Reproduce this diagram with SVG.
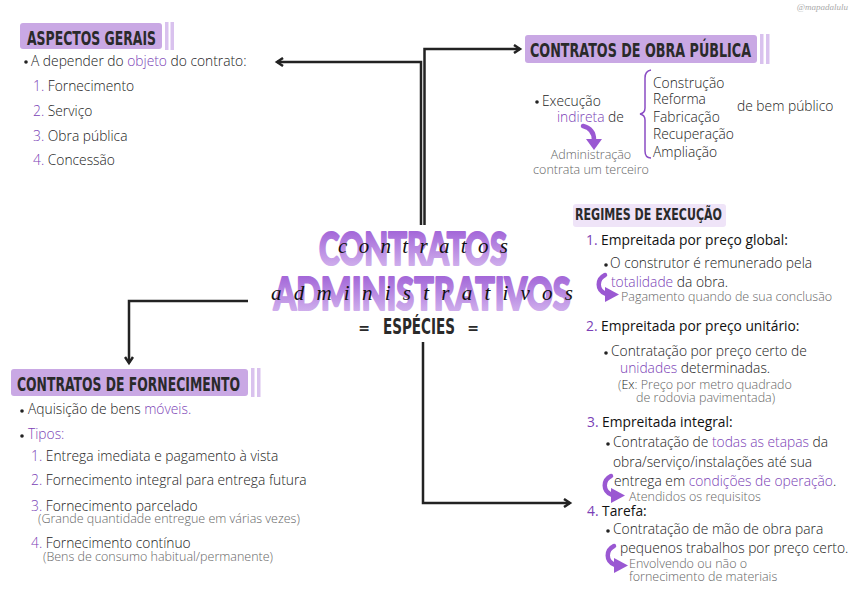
<svg xmlns="http://www.w3.org/2000/svg" width="853" height="594" viewBox="0 0 853 594">
<defs>
<style>
.t{font-family:"Open Sans","Noto Sans",sans-serif;font-size:13.8px;fill:#222;font-weight:300}
.d{fill:#111;font-weight:400}
.p{fill:#7b3fb6}
.g{font-family:"Open Sans","Noto Sans",sans-serif;font-size:12.5px;fill:#666;font-weight:300}
.h{font-family:"DejaVu Sans","Liberation Sans",sans-serif;font-weight:bold;fill:#2a2a2a}
.box{fill:#c9a8e4}
.bar{fill:#d9c2ee}
.ln{fill:none;stroke:#222;stroke-width:2.5}
.bul{fill:#222}
.big{font-family:Lato,"DejaVu Sans",sans-serif;font-weight:900;font-size:46px;fill:url(#tg);stroke:url(#tg);stroke-width:2.2;stroke-linejoin:round}
.sc{font-family:"Liberation Serif",serif;font-style:italic;font-size:21px;fill:#111}
</style>
<marker id="ah" markerWidth="10" markerHeight="10" refX="7" refY="5" orient="auto" markerUnits="userSpaceOnUse">
<path d="M1,1 L7,5 L1,9" fill="none" stroke="#222" stroke-width="2.5"/>
</marker>
<linearGradient id="tg" x1="0" y1="0" x2="0" y2="1">
<stop offset="0" stop-color="#9550d2"/>
<stop offset="1" stop-color="#dac0f1"/>
</linearGradient>
<symbol id="curl" viewBox="0 0 26 30" overflow="visible">
<path d="M11,2 C3,6 2,17 12,21" fill="none" stroke="#9a58d2" stroke-width="4.5" stroke-linecap="round"/>
<polygon points="11,14 25,21.5 11,29" fill="#9a58d2"/>
</symbol>
</defs>
<rect width="853" height="594" fill="#fff"/>

<text x="848" y="10" text-anchor="end" font-family="Liberation Serif,serif" font-style="italic" font-size="9" fill="#aaa">@mapadalulu</text>

<g id="connectors">
<path class="ln" d="M421,225 V62 H277" marker-end="url(#ah)"/>
<path class="ln" d="M424.5,225 V49 H520" marker-end="url(#ah)"/>
<path class="ln" d="M248,301 H129 V363" marker-end="url(#ah)"/>
<path class="ln" d="M423,342 V503 H570" marker-end="url(#ah)"/>
</g>

<g id="title">
<text class="big" x="413" y="265" text-anchor="middle" textLength="188" lengthAdjust="spacingAndGlyphs">CONTRATOS</text>
<text class="big" x="422" y="310" text-anchor="middle" textLength="297" lengthAdjust="spacingAndGlyphs">ADMINISTRATIVOS</text>
<text class="sc" x="338" y="253" textLength="170" lengthAdjust="spacing">contratos</text>
<text class="sc" x="271" y="300" textLength="302" lengthAdjust="spacing">administrativos</text>
<text x="364" y="333" text-anchor="middle" class="h" font-size="14">=</text>
<text x="419" y="334" text-anchor="middle" class="h" font-size="21" textLength="72" lengthAdjust="spacingAndGlyphs">ESPÉCIES</text>
<text x="473" y="333" text-anchor="middle" class="h" font-size="14">=</text>
</g>

<g id="aspectos-gerais">
<rect class="box" x="20" y="23" width="142" height="26" rx="3"/>
<rect class="bar" x="165" y="22" width="3.5" height="28"/>
<rect class="bar" x="170.5" y="22" width="3.5" height="28"/>
<text class="h" x="27" y="44.5" font-size="19" textLength="129" lengthAdjust="spacingAndGlyphs">ASPECTOS GERAIS</text>
<circle class="bul" cx="26" cy="62" r="1.8"/>
<text class="t" x="31" y="66">A depender do <tspan class="p">objeto</tspan> do contrato:</text>
<text class="t" x="33" y="91"><tspan class="p">1.</tspan> Fornecimento</text>
<text class="t" x="33" y="116"><tspan class="p">2.</tspan> Serviço</text>
<text class="t" x="33" y="141"><tspan class="p">3.</tspan> Obra pública</text>
<text class="t" x="33" y="165"><tspan class="p">4.</tspan> Concessão</text>
</g>

<g id="obra-publica">
<rect class="box" x="525" y="35" width="232" height="28" rx="3"/>
<rect class="bar" x="760" y="34" width="3.5" height="30"/>
<rect class="bar" x="766" y="34" width="3.5" height="30"/>
<text class="h" x="530" y="57" font-size="19" textLength="221" lengthAdjust="spacingAndGlyphs">CONTRATOS DE OBRA PÚBLICA</text>
<circle class="bul" cx="537" cy="102" r="1.8"/>
<text class="t" x="542" y="106">Execução</text>
<text class="t" x="557" y="122"><tspan class="p">indireta</tspan> de</text>
<path d="M583,126 C591,128 594,133 594,140" fill="none" stroke="#9a58d2" stroke-width="4.5" stroke-linecap="round"/>
<polygon points="586,139 602,139 594,150" fill="#9a58d2"/>
<text class="g" x="591" y="159" text-anchor="middle">Administração</text>
<text class="g" x="591" y="174" text-anchor="middle">contrata um terceiro</text>
<path d="M651,70 Q645,71 645,78 V108 Q645,113 640,114 Q645,115 645,120 V151 Q645,158 651,158" fill="none" stroke="#8a4cc4" stroke-width="1.5"/>
<text class="t" x="653" y="88">Construção</text>
<text class="t" x="653" y="104">Reforma</text>
<text class="t" x="653" y="122">Fabricação</text>
<text class="t" x="653" y="139">Recuperação</text>
<text class="t" x="653" y="157">Ampliação</text>
<text class="t" x="737" y="111">de bem público</text>
</g>

<g id="fornecimento">
<rect class="box" x="11" y="369" width="237" height="27" rx="3"/>
<rect class="bar" x="251" y="368" width="3.5" height="29"/>
<rect class="bar" x="257" y="368" width="3.5" height="29"/>
<text class="h" x="17" y="391" font-size="19" textLength="223" lengthAdjust="spacingAndGlyphs">CONTRATOS DE FORNECIMENTO</text>
<circle class="bul" cx="22" cy="411" r="1.8"/>
<text class="t" x="28" y="414">Aquisição de bens <tspan class="p">móveis.</tspan></text>
<circle class="bul" cx="22" cy="436" r="1.8"/>
<text class="t p" x="28" y="439">Tipos:</text>
<text class="t" x="31" y="461"><tspan class="p">1.</tspan> Entrega imediata e pagamento à vista</text>
<text class="t" x="31" y="485"><tspan class="p">2.</tspan> Fornecimento integral para entrega futura</text>
<text class="t" x="31" y="511"><tspan class="p">3.</tspan> Fornecimento parcelado</text>
<text class="g" x="38" y="523">(Grande quantidade entregue em várias vezes)</text>
<text class="t" x="31" y="548"><tspan class="p">4.</tspan> Fornecimento contínuo</text>
<text class="g" x="43" y="561">(Bens de consumo habitual/permanente)</text>
</g>

<g id="regimes">
<rect x="573" y="204" width="153" height="23" rx="3" fill="#efe4f8"/>
<text class="h" x="575" y="220" font-size="15" textLength="147" lengthAdjust="spacingAndGlyphs">REGIMES DE EXECUÇÃO</text>
<text class="t d" x="586" y="245"><tspan class="p">1.</tspan> Empreitada por preço global:</text>
<circle class="bul" cx="606" cy="265" r="1.8"/>
<text class="t" x="610" y="268">O construtor é remunerado pela</text>
<text class="t" x="611" y="287"><tspan class="p">totalidade</tspan> da obra.</text>
<use href="#curl" x="594" y="273" width="26" height="30"/>
<text class="g" x="621" y="301">Pagamento quando de sua conclusão</text>
<text class="t d" x="586" y="331"><tspan class="p">2.</tspan> Empreitada por preço unitário:</text>
<circle class="bul" cx="606" cy="353" r="1.8"/>
<text class="t" x="611" y="356">Contratação por preço certo de</text>
<text class="t" x="620" y="373"><tspan class="p">unidades</tspan> determinadas.</text>
<text class="g" x="618" y="389">(<tspan fill="#222">Ex</tspan>: Preço por metro quadrado</text>
<text class="g" x="636" y="402">de rodovia pavimentada)</text>
<text class="t d" x="587" y="427"><tspan class="p">3.</tspan> Empreitada integral:</text>
<circle class="bul" cx="608" cy="444" r="1.8"/>
<text class="t" x="613" y="447">Contratação de <tspan class="p">todas as etapas</tspan> da</text>
<text class="t" x="613" y="467">obra/serviço/instalações até sua</text>
<text class="t" x="614" y="486">entrega em <tspan class="p">condições de operação</tspan>.</text>
<use href="#curl" x="600" y="474" width="26" height="30"/>
<text class="g" x="629" y="501">Atendidos os requisitos</text>
<text class="t d" x="587" y="516"><tspan class="p">4.</tspan> Tarefa:</text>
<circle class="bul" cx="608" cy="531" r="1.8"/>
<text class="t" x="613" y="534">Contratação de mão de obra para</text>
<text class="t" x="620" y="553">pequenos trabalhos por preço certo.</text>
<use href="#curl" x="603" y="544" width="26" height="30"/>
<text class="g" x="629" y="568">Envolvendo ou não o</text>
<text class="g" x="629" y="581">fornecimento de materiais</text>
</g>
</svg>
